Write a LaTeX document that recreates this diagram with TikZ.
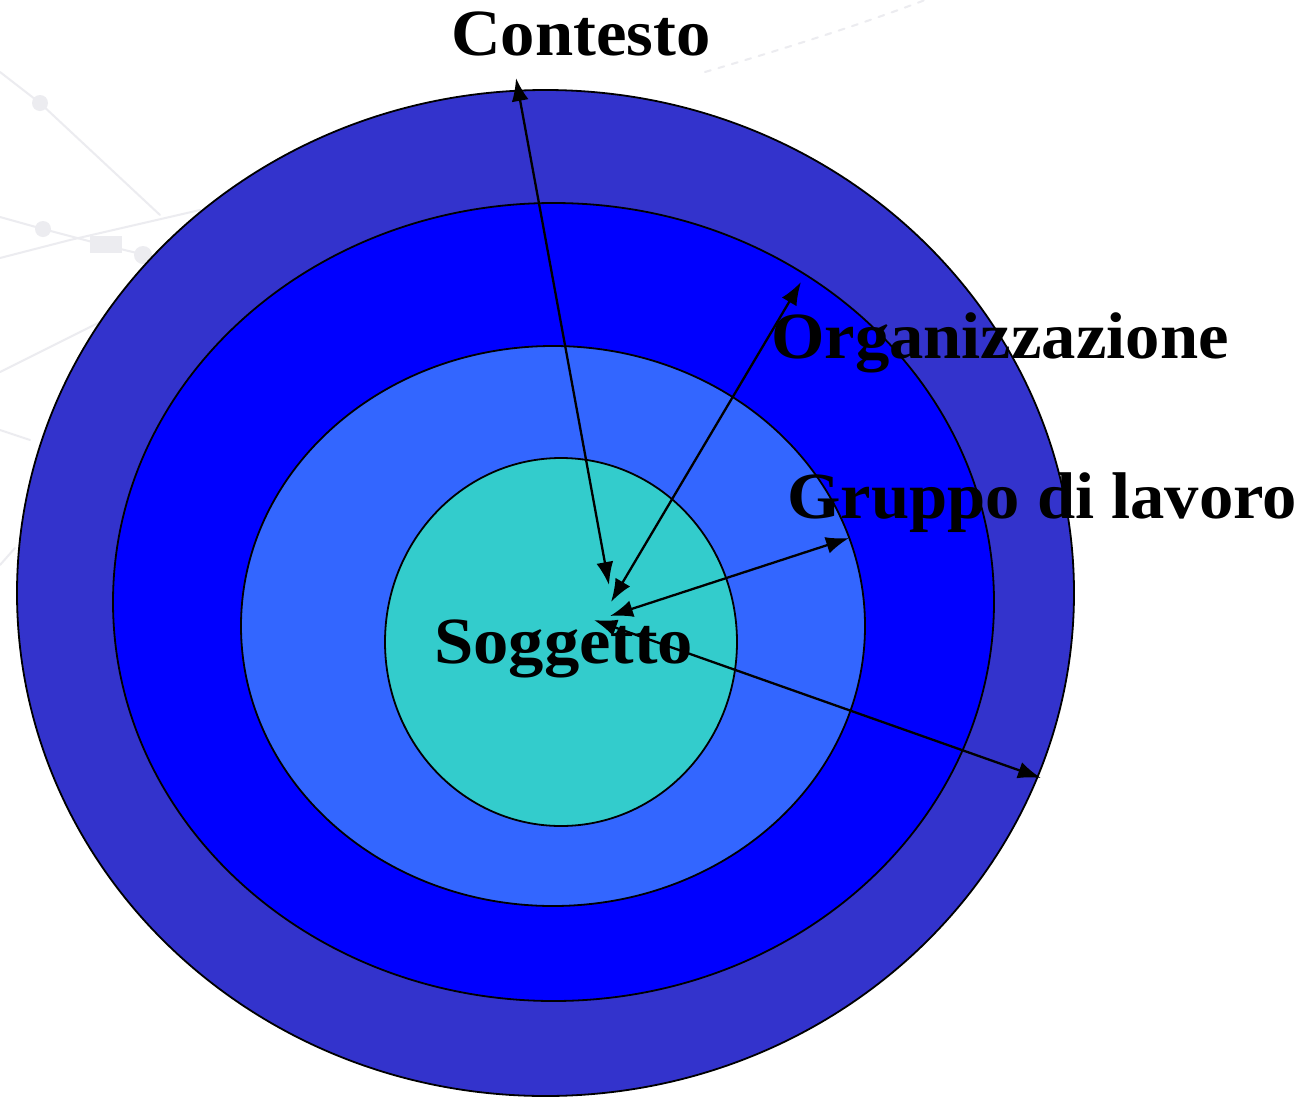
\documentclass[tikz,border=0pt]{standalone}
\usepackage{fontspec}
\newfontfamily\lblfont[FakeStretch=1.04]{Liberation Serif}
\newfontfamily\lblfontw[FakeStretch=1.07]{Liberation Serif}
\usetikzlibrary{arrows.meta,shapes.geometric}
\definecolor{ringA}{HTML}{3333CC}
\definecolor{ringB}{HTML}{0000FF}
\definecolor{ringC}{HTML}{3366FF}
\definecolor{ringD}{HTML}{33CCCC}
\definecolor{faint}{HTML}{ECECF0}
\tikzset{
  ring/.style={draw=black, line width=1.8pt, ellipse, inner sep=0pt},
  lbl/.style={font=\lblfont\bfseries\fontsize{66}{66}\selectfont, text=black, inner sep=0pt, anchor=base west},
  conn/.style={line width=2.3pt, {Latex[length=23pt,width=17pt]}-{Latex[length=23pt,width=17pt]}},
  bgline/.style={draw=faint, line width=2pt, line cap=round}
}
\begin{document}
\begin{tikzpicture}[x=1pt,y=-1pt]
\useasboundingbox (0,0) rectangle (1306,1098);
\fill[white] (0,0) rectangle (1306,1098);
% faint background decoration
\draw[bgline] (0,72) -- (40,103) -- (160,215);
\fill[faint] (40,103) circle (8);
\draw[bgline] (0,217) -- (43,229) -- (100,244) -- (145,255);
\fill[faint] (43,229) circle (8);
\fill[faint] (90,236) rectangle (122,253);
\fill[faint] (143,255) circle (9);
\draw[bgline] (0,258) -- (70,240) -- (200,210);
\draw[bgline] (0,372) -- (100,322);
\draw[bgline] (0,430) -- (30,440);
\draw[bgline] (0,565) -- (15,548);
\draw[bgline, dash pattern=on 6pt off 8pt] (705,72) .. controls (780,50) and (860,25) .. (925,0);
% rings
\node[ring, fill=ringA, minimum width=1057pt, minimum height=1006pt] (outer) at (545.5,593) {};
\node[ring, fill=ringB, minimum width=881pt, minimum height=798pt] (org) at (553.5,602) {};
\node[ring, fill=ringC, minimum width=624pt, minimum height=560pt] (grp) at (553,626) {};
\node[ring, fill=ringD, minimum width=352pt, minimum height=368pt] (sog) at (561,642) {};
% arrow ends
\coordinate (cA) at (609,585);
\coordinate (tA) at (516,78);
\coordinate (cB) at (611,602);
\coordinate (tB) at (801,282);
\coordinate (cC) at (610,616);
\coordinate (tC) at (849,538);
\coordinate (cD) at (594,620);
\coordinate (tD) at (1041,778);
% labels
\node[lbl] (lcont) at (451,55) {Contesto};
\node[lbl] (lorg) at (771,358) {Organizzazione};
\node[lbl] (lgrp) at (787,518) {Gruppo di lavoro};
\node[lbl, font=\lblfontw\bfseries\fontsize{66}{66}\selectfont] (lsog) at (434,663) {Soggetto};
% connectors
\draw[conn] (cA) -- (tA);
\draw[conn] (cB) -- (tB);
\draw[conn] (cC) -- (tC);
\draw[conn] (cD) -- (tD);
\end{tikzpicture}
\end{document}
